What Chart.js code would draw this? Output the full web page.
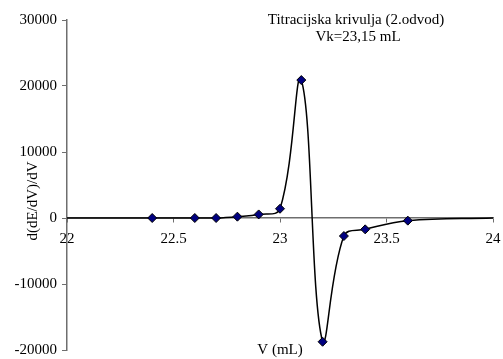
<!DOCTYPE html>
<html>
<head>
<meta charset="utf-8">
<script src="https://cdn.jsdelivr.net/npm/chart.js@4"></script>
<style>
  html, body { margin: 0; padding: 0; background: #fff; }
  #wrap { width: 503px; height: 359px; }
</style>
</head>
<body>
<div id="wrap"><canvas id="c"></canvas></div>
<script>
/* ── DATA ───────────────────────────────────── */
const volumes = [22, 22.4, 22.6, 22.7, 22.8, 22.9, 23.0, 23.1, 23.2, 23.3, 23.4, 23.6, 24];
const deriv2  = [0, 0, 0, 0, 200, 540, 1400, 20900, -18750, -2730, -1720, -400, 0];
const markerShown = [false, true, true, true, true, true, true, true, true, true, true, true, false];
const titleLines = ['Titracijska krivulja (2.odvod)', 'Vk=23,15 mL'];
const xTitle = 'V (mL)';
const yTitle = 'd(dE/dV)/dV';

/* ── STYLE ──────────────────────────────────── */
const serif = "'Liberation Serif', 'Times New Roman', serif";
const tickFont = { family: serif, size: 15 };
const axisCol = '#6e6e6e';
const plain = v => String(v);

/* ── TEXT (titles) ──────────────────────────── */
const texts = {
    id: 'texts',
    afterDraw(chart) {
        const { ctx, chartArea: a } = chart;
        ctx.save();
        ctx.fillStyle = '#000';
        ctx.font = `15px ${serif}`;
        ctx.textAlign = 'center';
        ctx.textBaseline = 'middle';
        ctx.fillText(titleLines[0], 356, 20);
        ctx.fillText(titleLines[1], 358, 37);
        ctx.fillText(xTitle, (a.left + a.right) / 2, 350);
        ctx.translate(33, 201);
        ctx.rotate(-Math.PI / 2);
        ctx.fillText(yTitle, 0, 0);
        ctx.restore();
    }
};

new Chart(document.getElementById('c'), {
    type: 'scatter',
    data: {
        datasets: [{
            data: volumes.map((v, i) => ({ x: v, y: deriv2[i] })),
            showLine: true,
            borderColor: '#000',
            borderWidth: 1.5,
            tension: 0.4,
            pointStyle: 'rectRot',
            pointRadius: markerShown.map(m => m ? 4.5 : 0),
            pointBackgroundColor: '#000080',
            pointBorderColor: '#000',
            pointBorderWidth: 1,
        }]
    },
    plugins: [texts],
    options: {
        responsive: true, maintainAspectRatio: false,
        animation: false,
        layout: { padding: { left: 0, top: 20, right: 10, bottom: 9 } },
        plugins: { legend: { display: false }, tooltip: { enabled: false } },
        scales: {
            x: {
                type: 'linear',
                position: { y: 0 },
                min: 22, max: 24,
                afterFit: s => { s.paddingLeft = 0; s.paddingRight = 0; },
                grid: { drawOnChartArea: false, drawTicks: true, tickLength: 4, color: axisCol },
                border: { color: axisCol, width: 1.5 },
                ticks: { stepSize: 0.5, color: '#000', font: tickFont, padding: 8, maxRotation: 0, callback: plain }
            },
            y: {
                min: -20000, max: 30000,
                afterFit: s => { s.width = 67; s.paddingTop = 0; s.paddingBottom = 0; },
                grid: { drawOnChartArea: false, drawTicks: true, tickLength: 5, color: axisCol },
                border: { color: axisCol, width: 1.5 },
                ticks: { stepSize: 10000, color: '#000', font: tickFont, padding: 5, callback: plain }
            }
        }
    }
});
</script>
</body>
</html>
